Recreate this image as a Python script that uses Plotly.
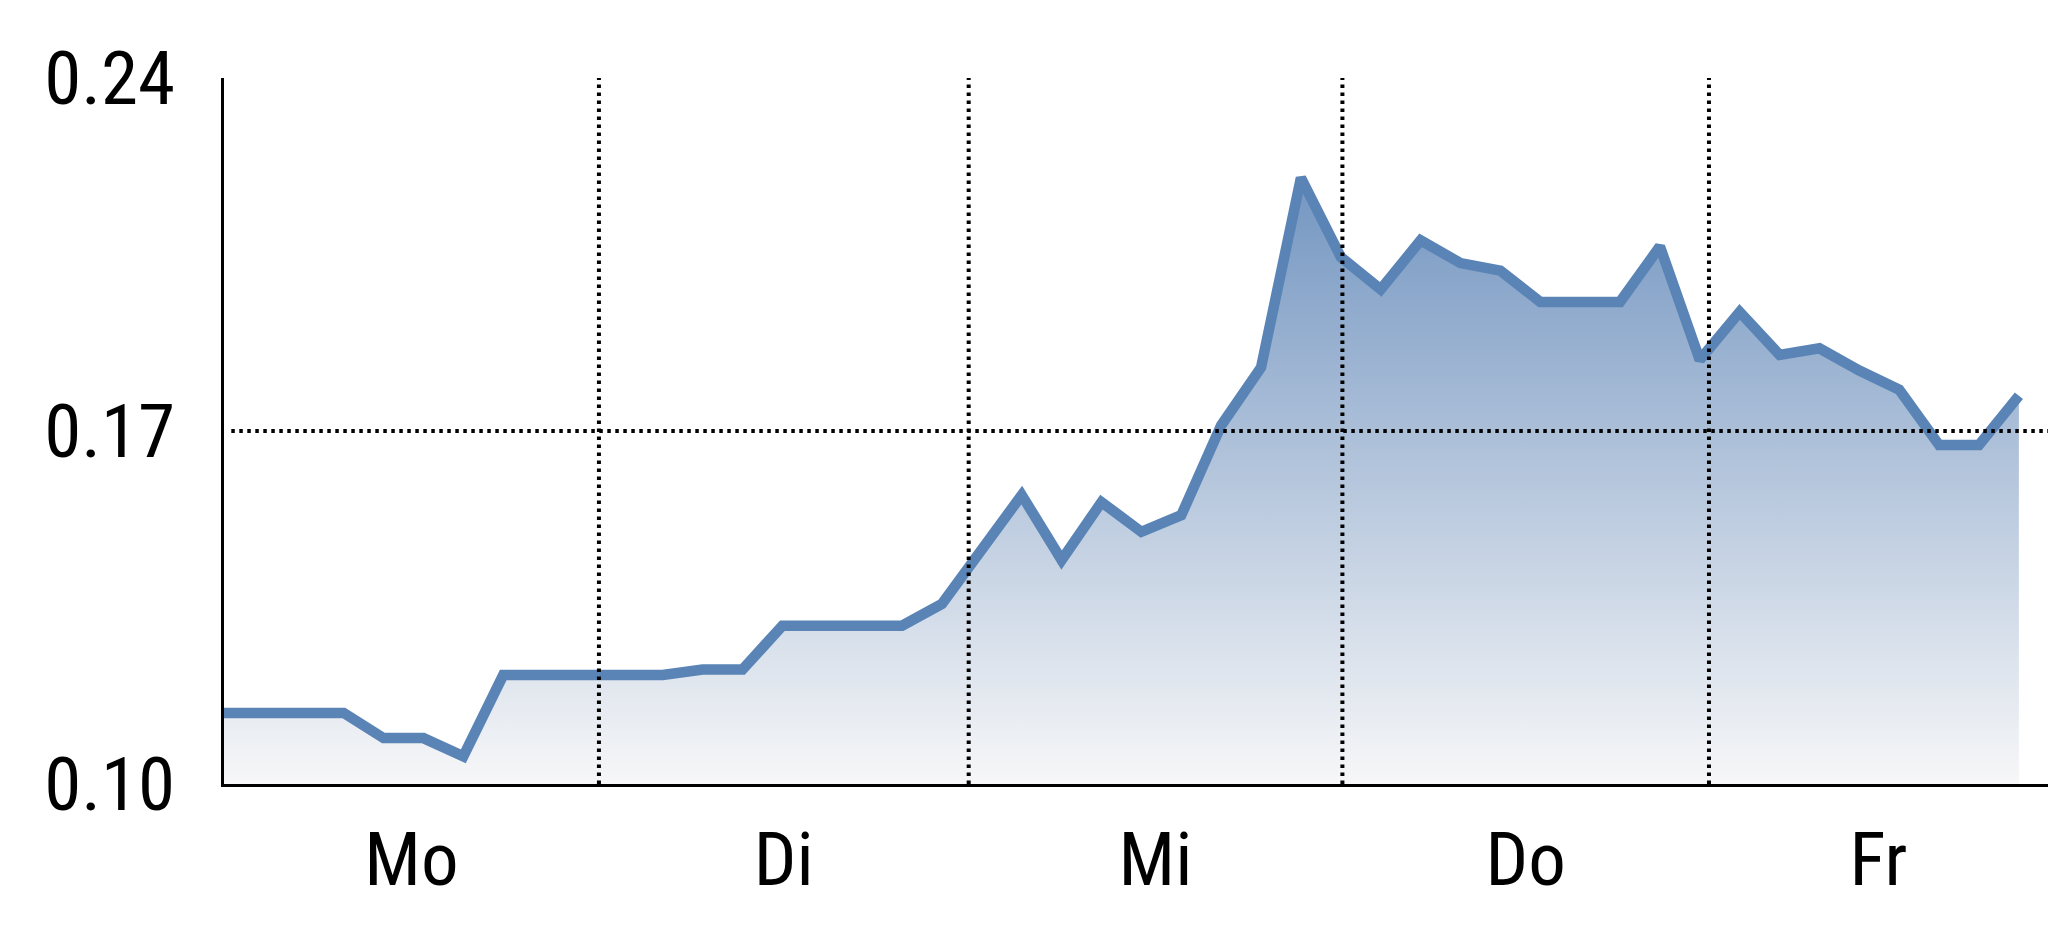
import plotly.graph_objects as go

# ---- data ----
values = [
    0.1141, 0.1141, 0.1141, 0.1141, 0.1091, 0.1091, 0.1055, 0.1216, 0.1216, 0.1216,
    0.1216, 0.1216, 0.1227, 0.1227, 0.1314, 0.1314, 0.1314, 0.1314, 0.1357, 0.1465,
    0.1573, 0.1444, 0.1559, 0.1500, 0.1533, 0.1711, 0.1826, 0.2202, 0.2045, 0.1981,
    0.2078, 0.2033, 0.2018, 0.1956, 0.1956, 0.1956, 0.2066, 0.1841, 0.1936, 0.1851,
    0.1864, 0.1820, 0.1782, 0.1672, 0.1672, 0.1770,
]
x_index = list(range(len(values)))
days = ["Mo", "Di", "Mi", "Do", "Fr"]
day_boundaries = [9.40, 18.67, 28.04, 37.23]
x_end = 45.73
y_ticks = [0.10, 0.17, 0.24]
y_ticktext = ["0.10", "0.17", "0.24"]
ref_line = 0.17

edges = [0.0] + day_boundaries + [x_end]
label_pos = [(edges[i] + edges[i + 1]) / 2 for i in range(len(days))]

LINE = "#5a84b6"
FONT = "Roboto Condensed, Liberation Sans Narrow, Arial Narrow, Liberation Sans, sans-serif"

fig = go.Figure()
fig.add_trace(go.Scatter(
    x=x_index, y=values, mode="lines",
    line=dict(color=LINE, width=10.5),
    fill="tozeroy",
    fillgradient=dict(
        type="vertical",
        colorscale=[[0, "rgb(247,247,248)"], [1, "rgb(116,150,193)"]],
        start=0.10, stop=max(values),
    ),
    hoverinfo="skip", showlegend=False,
))

DOT = dict(color="black", width=4, dash="3.5px,4.5px")
shapes = []
for b in day_boundaries:
    shapes.append(dict(type="line", xref="x", yref="y", x0=b, x1=b, y0=y_ticks[0], y1=y_ticks[-1],
                       line=DOT, layer="above"))
shapes.append(dict(type="line", xref="paper", yref="y", x0=0.004, x1=1, y0=ref_line, y1=ref_line,
                   line=DOT, layer="above"))

fig.update_layout(
    width=2048, height=937,
    margin=dict(l=224, r=0, t=78, b=153),
    paper_bgcolor="white", plot_bgcolor="white",
    shapes=shapes,
    xaxis=dict(
        range=[0, x_end], tickvals=label_pos, ticktext=days,
        showgrid=False, zeroline=False, showline=True, linecolor="black", linewidth=3,
        ticks="", ticklabelstandoff=8,
        tickfont=dict(family=FONT, size=75, color="black"),
    ),
    yaxis=dict(
        range=[y_ticks[0], y_ticks[-1]], tickvals=y_ticks, ticktext=y_ticktext,
        showgrid=False, zeroline=False, showline=True, linecolor="black", linewidth=3,
        ticks="", ticklabelstandoff=31,
        tickfont=dict(family=FONT, size=75, color="black"),
    ),
)

fig.write_html(
    "out.html",
    config={"displayModeBar": False, "staticPlot": True},
    post_script="document.body.style.margin='0';document.body.style.overflow='hidden';",
)
